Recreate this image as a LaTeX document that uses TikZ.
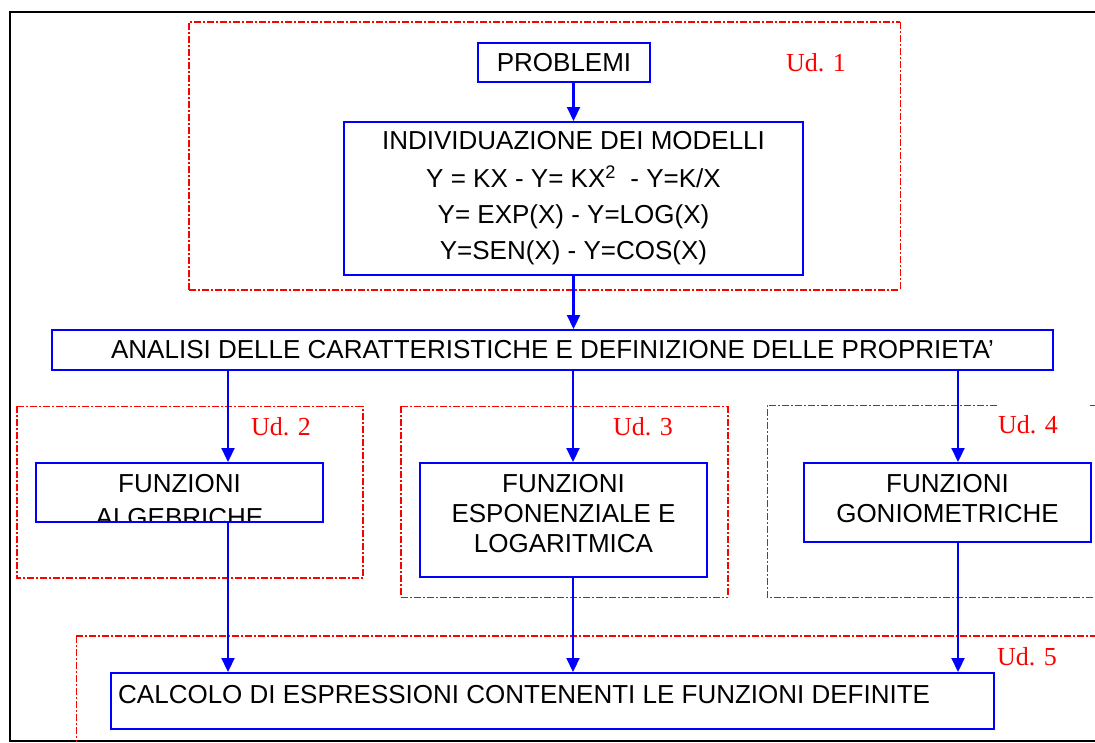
\documentclass[tikz,border=0pt]{standalone}
\usepackage{fontspec}
\setmainfont{Liberation Sans}
\newfontfamily\udfont{Liberation Serif}
\usetikzlibrary{arrows.meta}
\definecolor{boxblue}{RGB}{0,0,255}
\definecolor{udred}{RGB}{255,0,0}
\begin{document}
\begin{tikzpicture}[x=1pt,y=-1pt,
  fbox/.style={draw=boxblue, line width=2pt, inner sep=0pt},
  txt/.style={font=\fontsize{26}{30}\selectfont, align=center, inner sep=0pt},
  arr/.style={draw=boxblue, line width=2.2pt, -{Triangle[length=14pt,width=13pt]}},
  udthick/.style={draw=udred, line width=2.6pt, dash pattern=on 7pt off 2pt on 2pt off 2pt},
  udmid/.style={draw=udred, line width=1.6pt, dash pattern=on 7pt off 2pt on 2pt off 2pt},
  udthin/.style={draw=udred, line width=1pt, dash pattern=on 7pt off 2pt on 2pt off 2pt},
  udlab/.style={text=udred, font=\udfont\fontsize{26}{30}\selectfont, inner sep=0pt}]
\useasboundingbox (0,0) rectangle (1095,742);
\fill[white] (0,0) rectangle (1095,742);

% outer frame
\draw[black, line width=2pt] (1095,12) -- (10,12) -- (10,741) -- (1095,741);

% red unit frames
\draw[udthick] (189,290) -- (189,22) -- (900,22);
\draw[udthin] (900,22) -- (900,290);
\draw[udmid] (189,290) -- (900,290);

\draw[udthin] (17,406) -- (363,406);
\draw[udthick] (17,406) -- (17,578) -- (363,578) -- (363,406);

\draw[udthin] (401,406) -- (728,406);
\draw[udthick] (401,406) -- (401,597);
\draw[udthick] (728,406) -- (728,597);
\draw[udthin] (401,597) -- (728,597);

\draw[udthin] (997,405) -- (767,405) -- (767,597) -- (1095,597);
\draw[udthin] (1090,405) -- (1095,405);

\draw[udthick] (76,636) -- (1095,636);
\draw[udthin] (76,636) -- (76,742);

% unit labels
\node[udlab] (ud1) at (816,63) {Ud. 1};
\node[udlab] (ud2) at (281,427) {Ud. 2};
\node[udlab] (ud3) at (643,427) {Ud. 3};
\node[udlab] (ud4) at (1028,425) {Ud. 4};
\node[udlab] (ud5) at (1027,657) {Ud. 5};

% boxes
\node[fbox, txt, minimum width=172pt, minimum height=39pt] (prob) at (564,62.5) {PROBLEMI};
\node[fbox, txt, font=\fontsize{26}{36}\selectfont, minimum width=459pt, minimum height=153pt] (ind) at (573.5,198.5)
  {INDIVIDUAZIONE DEI MODELLI\\[2pt]
   Y = KX - Y= KX\textsuperscript{2}\ \ - Y=K/X\\
   Y= EXP(X) - Y=LOG(X)\\
   Y=SEN(X) - Y=COS(X)};
\node[fbox, txt, minimum width=1001pt, minimum height=40pt] (ana) at (552.5,350)
  {ANALISI DELLE CARATTERISTICHE E DEFINIZIONE DELLE PROPRIETA’};

\begin{scope}
  \clip (36,463) rectangle (323,521);
  \node[txt] (algtext) at (179.5,500.5) {FUNZIONI\\[3.5pt]ALGEBRICHE};
\end{scope}
\node[fbox, minimum width=287pt, minimum height=59pt] (alg) at (179.5,492.5) {};

\node[fbox, minimum width=287pt, minimum height=114pt] (exp) at (563.5,520) {};
\node[txt] (exptext) at (563.5,513.7) {FUNZIONI\\ESPONENZIALE E\\LOGARITMICA};

\node[fbox, minimum width=287pt, minimum height=79pt] (gon) at (947.5,502.5) {};
\node[txt] (gontext) at (947.5,498.7) {FUNZIONI\\GONIOMETRICHE};

\node[fbox, minimum width=883pt, minimum height=56pt] (calc) at (552.5,701) {};
\node[txt, anchor=base west] (calctext) at (118,703) {CALCOLO DI ESPRESSIONI CONTENENTI LE FUNZIONI DEFINITE};

% connectors
\draw[arr] (prob.south -| ind.north) -- (ind.north);
\draw[arr] (ind.south) -- (ind.south |- ana.north);
\draw[arr] ([xshift=48.5pt]alg.north |- ana.south) -- ([xshift=48.5pt]alg.north);
\draw[arr] ([xshift=9.5pt]exp.north |- ana.south) -- ([xshift=9.5pt]exp.north);
\draw[arr] ([xshift=10.5pt]gon.north |- ana.south) -- ([xshift=10.5pt]gon.north);
\draw[arr] ([xshift=48.5pt]alg.south) -- ([xshift=48.5pt]alg.south |- calc.north);
\draw[arr] ([xshift=9.5pt]exp.south) -- ([xshift=9.5pt]exp.south |- calc.north);
\draw[arr] ([xshift=10.5pt]gon.south) -- ([xshift=10.5pt]gon.south |- calc.north);
\end{tikzpicture}
\end{document}
